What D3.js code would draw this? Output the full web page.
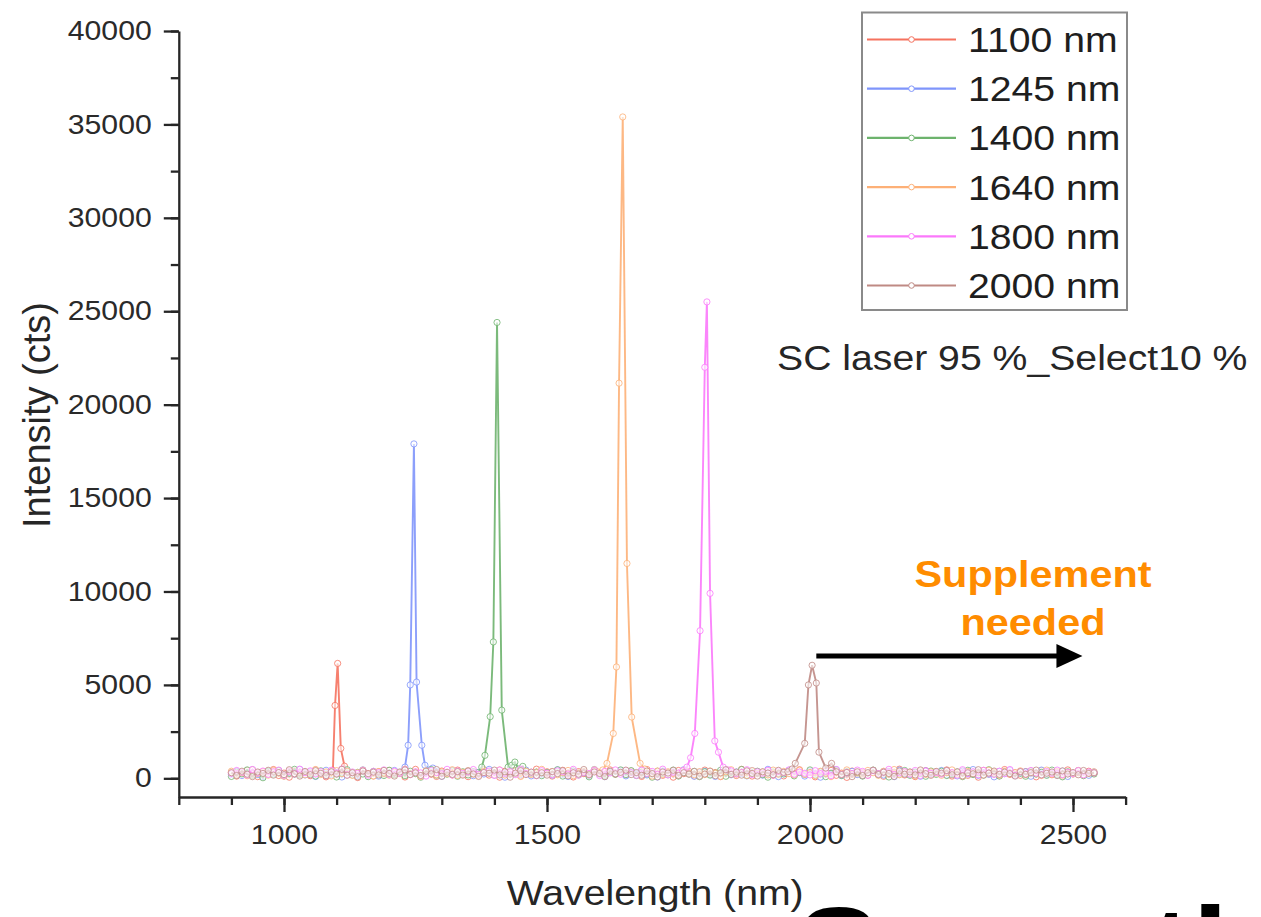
<!DOCTYPE html>
<html><head><meta charset="utf-8">
<script src="https://cdn.jsdelivr.net/npm/d3@7"></script>
<style>body{margin:0;background:#fff}svg{display:block}</style>
</head><body>
<svg id="c" width="1261" height="917"></svg>
<script>
// ---------------- DATA ----------------
const seriesNames = ["1100 nm","1245 nm","1400 nm","1640 nm","1800 nm","2000 nm"];
const seriesColors = ["#f5725f","#7f95fb","#6db36d","#fdb077","#fb78fb","#bf8a84"];
// baseline samples on a 10 nm grid 900..2540 nm (165 values per series)
const baseStart = 900, baseStep = 10;
const base1100 = [310,120,260,420,180,90,350,240,470,150,280,60,390,220,330,
140,450,260,80,370,210,500,160,300,40,410,250,130,360,230,
420,190,310,70,260,480,150,340,220,100,390,270,180,440,210,
90,330,250,460,170,290,60,380,230,410,140,320,200,490,260,
350,120,280,430,190,70,360,250,150,400,300,110,450,220,330,
180,390,240,100,470,210,330,160,280,60,420,250,370,130,300,
440,200,310,90,360,240,150,480,270,120,350,210,400,170,290,
130,380,260,460,190,310,80,350,230,420,160,280,50,390,240,
300,170,430,250,110,370,220,490,180,330,90,260,410,200,350,
240,450,120,300,380,160,270,60,420,230,340,140,470,210,290,
160,360,250,80,410,280,190,340,120,450,230,300,170,380,260];
const base1245 = [220,380,150,290,460,200,90,340,260,410,130,300,220,470,180,
350,100,270,430,190,310,70,390,240,160,450,210,330,120,280,
190,420,260,80,370,230,500,150,290,350,110,260,420,200,310,
400,140,320,230,480,170,270,60,360,250,190,440,130,300,220,
280,170,450,210,100,380,260,330,140,470,230,90,360,250,410,
130,310,240,420,180,280,70,390,210,350,150,460,260,110,320,
370,220,100,300,450,190,340,250,130,410,280,170,480,230,90,
260,430,180,320,120,390,240,60,350,210,460,150,290,370,200,
140,300,410,230,170,360,90,440,270,190,330,110,400,250,310,
420,180,280,130,390,240,470,160,300,220,80,370,250,430,150,
290,350,110,260,440,200,320,170,380,100,270,410,230,160,340];
const base1400 = [100,330,240,450,160,290,30,380,220,410,140,270,480,190,310,
250,120,400,210,340,70,290,460,180,320,230,90,370,260,150,
430,200,310,140,380,250,60,340,470,170,290,220,400,110,350,
180,360,90,280,440,230,320,150,410,200,50,370,260,330,140,
310,240,460,120,270,390,180,300,80,420,250,160,340,220,450,
200,410,150,330,240,60,380,270,190,440,120,300,230,370,90,
350,170,280,430,110,320,250,470,160,290,380,200,60,340,260,
230,400,130,310,220,450,180,340,90,270,410,150,360,240,300,
120,280,440,190,360,70,310,230,420,160,330,260,110,390,210,
380,150,260,340,90,430,200,300,170,460,240,120,350,280,190,
270,110,390,230,320,160,440,210,80,350,250,400,140,300,230];
const base1640 = [380,210,300,140,450,260,350,170,420,280,110,390,230,330,190,
290,470,200,340,130,410,250,380,160,300,440,220,120,360,270,
170,330,260,490,210,310,100,400,280,190,350,240,460,150,320,
410,230,140,370,290,200,450,170,330,260,100,390,220,300,480,
250,360,190,310,420,140,280,370,230,460,180,330,90,400,260,
330,160,440,240,300,120,390,210,350,270,170,420,280,190,360,
200,390,270,110,350,460,230,300,150,410,250,340,180,440,220,
370,250,180,430,210,310,140,380,270,90,360,230,450,200,320,
240,420,300,160,380,220,470,190,330,260,130,400,210,350,280,
160,310,450,230,120,370,260,340,200,430,290,170,380,240,310,
400,200,330,270,150,440,220,360,180,310,250,420,190,280,350];
const base1800 = [260,420,330,180,470,290,390,210,350,440,160,380,250,490,300,
400,230,360,150,430,280,500,190,340,260,410,170,370,300,450,
220,380,270,460,200,350,290,120,420,310,240,480,180,390,260,
340,470,210,300,390,160,440,270,360,200,490,250,330,140,410,
280,190,400,350,230,480,170,310,260,420,150,370,290,450,220,
410,300,160,440,260,370,210,490,180,330,280,400,150,360,250,
190,360,290,420,130,400,250,310,460,200,350,270,430,170,380,
300,450,220,340,270,180,410,250,380,140,470,210,320,260,440,
370,160,410,240,330,480,200,290,360,220,420,150,390,270,310,
230,400,300,170,460,260,350,190,430,280,210,380,250,470,160,
350,240,420,280,190,360,270,440,200,320,260,410,180,340,290];
const base2000 = [300,150,380,220,90,340,260,430,170,310,200,460,240,120,370,
190,410,270,140,350,230,480,160,300,80,390,250,330,180,420,
260,120,340,450,200,290,150,380,240,470,110,320,210,360,170,
390,230,100,310,270,440,180,350,60,280,410,200,330,150,300,
170,360,250,410,130,300,220,470,190,340,260,90,380,240,320,
440,200,310,160,390,250,80,340,280,430,150,300,220,370,110,
230,380,140,290,460,210,330,170,400,260,120,350,280,190,430,
320,110,360,240,180,410,270,140,380,230,470,200,310,90,350,
150,300,430,200,330,260,100,390,220,340,180,450,250,160,370,
280,420,190,350,130,300,240,460,170,280,390,210,330,250,120,
360,210,300,440,180,270,340,150,400,230,310,190,420,260,300];
// peak regions: [wavelength nm, counts]
const peak1100 = [[1088,320],[1093,420],[1097,3900],[1102,6150],[1108,1600],[1115,650],[1121,320]];
const peak1245 = [[1225,350],[1230,600],[1236,1770],[1240,5000],[1247,17900],[1252,5150],[1262,1770],[1268,700],[1276,450],[1283,550]];
const peak1400 = [[1368,300],[1376,600],[1382,1230],[1392,3300],[1398,7300],[1405,24400],[1414,3650],[1426,600],[1433,700],[1439,870],[1446,500],[1454,640]];
const peak1640 = [[1596,350],[1606,450],[1614,800],[1626,2400],[1632,5960],[1637,21150],[1644,35400],[1652,11500],[1661,3280],[1677,800],[1686,500],[1694,350]];
const peak1800 = [[1758,400],[1766,600],[1773,1100],[1781,2400],[1791,7900],[1800,22000],[1804,25500],[1810,9900],[1819,2000],[1826,1400],[1835,600],[1844,450]];
const peak2000 = [[1958,350],[1966,500],[1972,800],[1990,1870],[1997,5000],[2004,6050],[2012,5100],[2017,1400],[2030,550],[2041,800],[2050,350]];
const xMajorTicks = [1000,1500,2000,2500];
const xMinorTicks = [800,900,1000,1100,1200,1300,1400,1500,1600,1700,1800,1900,2000,2100,2200,2300,2400,2500,2600];
const yMajorTicks = [0,5000,10000,15000,20000,25000,30000,35000,40000];
const yMinorTicks = [0,2500,5000,7500,10000,12500,15000,17500,20000,22500,25000,27500,30000,32500,35000,37500,40000];
const xTitle = "Wavelength (nm)";
const yTitle = "Intensity (cts)";
const noteText = "SC laser 95 %_Select10 %";
const supplementLines = ["Supplement","needed"];
const bottomText = "Something";

// ---------------- BUILD ----------------
const bases = [base1100,base1245,base1400,base1640,base1800,base2000];
const peaks = [peak1100,peak1245,peak1400,peak1640,peak1800,peak2000];
const series = bases.map((b,i)=>{
  const p = peaks[i];
  const lo = p[0][0]-4, hi = p[p.length-1][0]+4;
  const pts = b.map((v,j)=>[baseStart+j*baseStep, v]).filter(d=>d[0]<lo||d[0]>hi);
  return {name:seriesNames[i], color:seriesColors[i], pts: pts.concat(p).sort((a,b)=>a[0]-b[0])};
});

const svg = d3.select("#c");
const FONT = "'Liberation Sans', Arial, Helvetica, sans-serif";
const SX = 1.12; // horizontal text stretch
const x = d3.scaleLinear().domain([800,2600]).range([178.8,1125.6]);
const y = d3.scaleLinear().domain([-1000,40000]).range([797,31]);
const AX = "#262626";

// series
const line = d3.line().x(d=>x(d[0])).y(d=>y(d[1]));
series.forEach(s=>{
  const g = svg.append("g");
  g.append("path").attr("d",line(s.pts)).attr("fill","none")
    .attr("stroke",s.color).attr("stroke-width",1.9).attr("stroke-opacity",0.9);
  g.selectAll("circle").data(s.pts).join("circle")
    .attr("cx",d=>x(d[0])).attr("cy",d=>y(d[1])).attr("r",3.1)
    .attr("fill","#fff").attr("fill-opacity",0.6)
    .attr("stroke",s.color).attr("stroke-width",1).attr("stroke-opacity",0.8);
});

// axes
function styleAxis(g){
  g.selectAll("path,line").attr("stroke",AX).attr("stroke-width",2.3);
  g.selectAll("text").attr("fill","#2a2a2a").attr("font-family",FONT).attr("font-size",27);
}
const gxMinor = svg.append("g").attr("transform","translate(0,797)")
  .call(d3.axisBottom(x).tickValues(xMinorTicks).tickSize(8).tickSizeOuter(0).tickFormat(""));
const gxMajor = svg.append("g").attr("transform","translate(0,797)")
  .call(d3.axisBottom(x).tickValues(xMajorTicks).tickSize(15).tickSizeOuter(0).tickPadding(13).tickFormat(d3.format("d")));
gxMinor.select(".domain").remove();
[gxMinor,gxMajor].forEach(styleAxis);
gxMajor.selectAll("text").attr("transform",`scale(${SX},1)`).attr("x",0);

const gyMinor = svg.append("g").attr("transform","translate(178.8,0)")
  .call(d3.axisLeft(y).tickValues(yMinorTicks).tickSize(8).tickSizeOuter(0).tickFormat(""));
const gyMajor = svg.append("g").attr("transform","translate(178.8,0)")
  .call(d3.axisLeft(y).tickValues(yMajorTicks).tickSize(15).tickSizeOuter(0).tickPadding(12).tickFormat(d3.format("d")));
gyMinor.select(".domain").remove();
[gyMinor,gyMajor].forEach(styleAxis);
gyMajor.selectAll("text").each(function(){
  const t = d3.select(this); const ox = +t.attr("x");
  t.attr("x", ox/SX).attr("transform",`scale(${SX},1)`);
});

// text helper
function txt(str,px,py,opt={}){
  return svg.append("text").text(str)
    .attr("transform",`translate(${px},${py}) scale(${opt.sx??SX},1)`)
    .attr("font-family",FONT).attr("font-size",opt.size||35)
    .attr("font-weight",opt.weight||"normal")
    .attr("text-anchor",opt.anchor||"start")
    .attr("fill",opt.fill||"#262626");
}

// axis titles
txt(xTitle,(x(800)+x(2600))/2+3,905,{anchor:"middle",size:35});
svg.append("text").text(yTitle)
  .attr("transform","translate(50,415) rotate(-90)")
  .attr("font-family",FONT).attr("font-size",38).attr("text-anchor","middle").attr("fill","#262626");

// legend
const lg = svg.append("g");
lg.append("rect").attr("x",862).attr("y",12.5).attr("width",265).attr("height",297.5)
  .attr("fill","#fff").attr("stroke","#8a8a8a").attr("stroke-width",2);
series.forEach((s,i)=>{
  const yy = 39.5 + i*49.2;
  lg.append("line").attr("x1",867).attr("x2",956).attr("y1",yy).attr("y2",yy)
    .attr("stroke",s.color).attr("stroke-width",2.2);
  lg.append("circle").attr("cx",911.5).attr("cy",yy).attr("r",2.8)
    .attr("fill","#fff").attr("stroke",s.color).attr("stroke-width",1);
  svg.append("text").text(s.name)
    .attr("transform",`translate(968,${yy+12.5}) scale(${SX},1)`)
    .attr("font-family",FONT).attr("font-size",35).attr("fill","#1e1e1e");
});

// annotations
txt(noteText,777,370,{size:35});
txt(supplementLines[0],1033,587,{size:37,weight:"bold",anchor:"middle",fill:"#ff8c00"});
txt(supplementLines[1],1033,635,{size:37,weight:"bold",anchor:"middle",fill:"#ff8c00"});
const ay = y(6550), ax0 = x(2012), ax1 = x(2518);
svg.append("line").attr("x1",ax0).attr("x2",ax1-22).attr("y1",ay).attr("y2",ay)
  .attr("stroke","#000").attr("stroke-width",5);
svg.append("path").attr("d",`M${ax1-26},${ay-12}L${ax1},${ay}L${ax1-26},${ay+12}Z`).attr("fill","#000");

// large text cut off by the bottom edge (as in the source image)
txt(bottomText,795,998,{size:130,weight:"bold",sx:1,fill:"#000"});
</script>
</body></html>
